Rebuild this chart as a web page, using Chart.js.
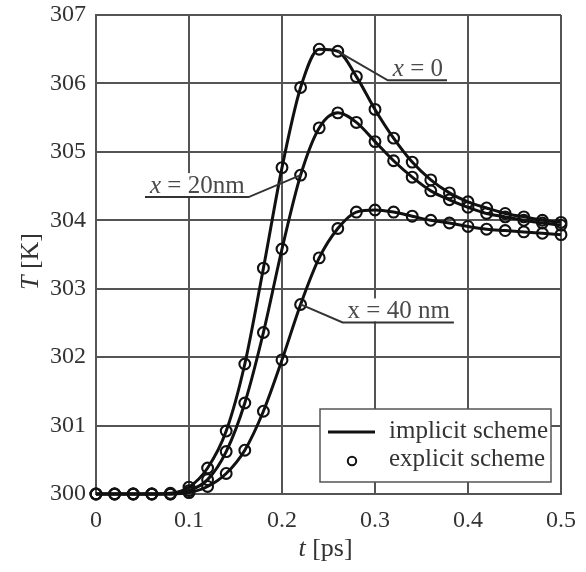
<!DOCTYPE html>
<html>
<head>
<meta charset="utf-8">
<script src="https://cdn.jsdelivr.net/npm/chart.js@4/dist/chart.umd.min.js"></script>
<style>
  html, body { margin: 0; padding: 0; background: #fff; }
  canvas { display: block; }
</style>
</head>
<body>
<canvas id="c" width="586" height="572"></canvas>
<script>
// Time samples [ps]
const tValues = [0, 0.02, 0.04, 0.06, 0.08, 0.10, 0.12, 0.14, 0.16, 0.18, 0.20, 0.22, 0.24,
                 0.26, 0.28, 0.30, 0.32, 0.34, 0.36, 0.38, 0.40, 0.42, 0.44, 0.46, 0.48, 0.50];

// Temperature [K] at depth x = 0
const tempX0 = [300, 300, 300, 300, 300.01, 300.10, 300.38, 300.92, 301.90, 303.30, 304.77, 305.94, 306.50,
                306.47, 306.10, 305.62, 305.20, 304.85, 304.59, 304.40, 304.27, 304.18, 304.10, 304.05, 304.00, 303.97];
// Temperature [K] at depth x = 20 nm
const tempX20 = [300, 300, 300, 300, 300, 300.05, 300.21, 300.62, 301.33, 302.36, 303.58, 304.66, 305.35,
                 305.57, 305.43, 305.15, 304.87, 304.63, 304.43, 304.30, 304.19, 304.10, 304.05, 304.00, 303.96, 303.93];
// Temperature [K] at depth x = 40 nm
const tempX40 = [300, 300, 300, 300, 300, 300.02, 300.11, 300.30, 300.64, 301.21, 301.96, 302.77, 303.45,
                 303.88, 304.12, 304.15, 304.12, 304.06, 304.00, 303.96, 303.91, 303.87, 303.85, 303.83, 303.81, 303.79];

const xTicks = [0, 0.1, 0.2, 0.3, 0.4, 0.5];
const yTicks = [300, 301, 302, 303, 304, 305, 306, 307];

const seriesNames = ['implicit scheme', 'explicit scheme'];

const SERIF = "'Liberation Serif', 'DejaVu Serif', serif";
const GRID = '#545454';
const INK = '#111';
const LABEL = '#333';

const toPoints = arr => tValues.map((t, i) => ({ x: t, y: arr[i] }));

const lineSet = arr => ({
  label: seriesNames[0],
  data: toPoints(arr),
  showLine: true,
  borderColor: INK,
  borderWidth: 3,
  pointRadius: 0,
  cubicInterpolationMode: 'monotone',
  fill: false,
  clip: false
});
const dotSet = arr => ({
  label: seriesNames[1],
  data: toPoints(arr),
  showLine: false,
  borderColor: INK,
  backgroundColor: 'rgba(0,0,0,0)',
  pointStyle: 'circle',
  pointRadius: 5.4,
  pointBorderWidth: 2.1,
  clip: false
});

// Leader-line labels for each curve
const curveNotes = [
  { parts: [['x', 'italic'], [' = 0', 'normal']], at: [0.26, 306.47], dx: 50, dy: 29, dir: 1 },
  { parts: [['x', 'italic'], [' = 20nm', 'normal']], at: [0.22, 304.66], dx: -52, dy: 22, dir: -1 },
  { parts: [['x = 40 nm', 'normal']], at: [0.22, 302.77], dx: 42, dy: 18, dir: 1 }
];

function drawParts(ctx, parts, x, y, size, measureOnly) {
  let w = 0;
  for (const [txt, style] of parts) {
    ctx.font = (style === 'italic' ? 'italic ' : '') + size + 'px ' + SERIF;
    if (!measureOnly) ctx.fillText(txt, x + w, y);
    w += ctx.measureText(txt).width;
  }
  return w;
}

const decorations = {
  id: 'decorations',
  afterDatasetsDraw(chart) {
    const ctx = chart.ctx;
    const xs = chart.scales.x, ys = chart.scales.y;
    const area = chart.chartArea;
    ctx.save();
    ctx.textBaseline = 'alphabetic';

    // curve labels
    for (const n of curveNotes) {
      const px = xs.getPixelForValue(n.at[0]);
      const py = ys.getPixelForValue(n.at[1]);
      const ex = px + n.dx, ey = py + n.dy;
      const tw = drawParts(ctx, n.parts, 0, 0, 25, true);
      const len = tw + 9;
      const x0 = n.dir > 0 ? ex : ex - len;
      // white backing behind the text
      ctx.fillStyle = '#fff';
      ctx.fillRect(x0 + 2, ey - 24, len - 3, 23);
      ctx.fillStyle = '#4a4a4a';
      drawParts(ctx, n.parts, x0 + 5, ey - 4, 25, false);
      ctx.strokeStyle = '#333';
      ctx.lineWidth = 2;
      ctx.beginPath();
      ctx.moveTo(px, py);
      ctx.lineTo(ex, ey);
      ctx.lineTo(n.dir > 0 ? ex + len : ex - len, ey);
      ctx.stroke();
    }

    // legend box
    const bw = 231, bh = 73;
    const bx = area.right - 10 - bw, by = area.bottom - 12 - bh;
    ctx.fillStyle = '#fff';
    ctx.fillRect(bx, by, bw, bh);
    ctx.strokeStyle = '#555';
    ctx.lineWidth = 1.5;
    ctx.strokeRect(bx, by, bw, bh);
    ctx.strokeStyle = INK;
    ctx.lineWidth = 3;
    ctx.beginPath();
    ctx.moveTo(bx + 8, by + 23);
    ctx.lineTo(bx + 55, by + 23);
    ctx.stroke();
    ctx.lineWidth = 2;
    ctx.beginPath();
    ctx.arc(bx + 32, by + 52, 4.2, 0, Math.PI * 2);
    ctx.stroke();
    ctx.fillStyle = LABEL;
    ctx.font = '25px ' + SERIF;
    ctx.fillText(seriesNames[0], bx + 69, by + 29);
    ctx.fillText(seriesNames[1], bx + 69, by + 57);

    // axis titles
    ctx.fillStyle = LABEL;
    const xt = [['t', 'italic'], [' [ps]', 'normal']];
    const xw = drawParts(ctx, xt, 0, 0, 26, true);
    drawParts(ctx, xt, (area.left + area.right) / 2 - xw / 2 - 3, area.bottom + 62, 26, false);

    const yt = [['T', 'italic'], [' [K]', 'normal']];
    const yw = drawParts(ctx, yt, 0, 0, 26, true);
    ctx.translate(38, (area.top + area.bottom) / 2 + 7);
    ctx.rotate(-Math.PI / 2);
    drawParts(ctx, yt, -yw / 2, 0, 26, false);
    ctx.restore();
  }
};

new Chart(document.getElementById('c'), {
  type: 'line',
  data: {
    datasets: [
      dotSet(tempX0), dotSet(tempX20), dotSet(tempX40),
      lineSet(tempX0), lineSet(tempX20), lineSet(tempX40)
    ]
  },
  options: {
    responsive: false,
    animation: false,
    layout: { padding: { top: 15, right: 25, left: 0, bottom: 0 } },
    plugins: { legend: { display: false }, tooltip: { enabled: false } },
    scales: {
      x: {
        type: 'linear',
        min: 0, max: 0.5,
        afterBuildTicks: s => { s.ticks = xTicks.map(v => ({ value: v })); },
        afterFit: s => { s.height = 78; s.paddingLeft = 0; s.paddingRight = 0; },
        grid: { color: GRID, lineWidth: 2, drawTicks: false },
        border: { color: GRID, width: 2 },
        ticks: {
          padding: 12,
          color: LABEL,
          font: { family: SERIF, size: 24 },
          maxRotation: 0,
          callback: v => String(v)
        }
      },
      y: {
        type: 'linear',
        min: 300, max: 307,
        afterBuildTicks: s => { s.ticks = yTicks.map(v => ({ value: v })); },
        afterFit: s => { s.width = 96; s.paddingTop = 0; s.paddingBottom = 0; },
        grid: { color: GRID, lineWidth: 2, drawTicks: false },
        border: { color: GRID, width: 2 },
        ticks: {
          padding: 10,
          color: LABEL,
          font: { family: SERIF, size: 24 },
          callback: v => String(v)
        }
      }
    }
  },
  plugins: [decorations]
});
</script>
</body>
</html>
